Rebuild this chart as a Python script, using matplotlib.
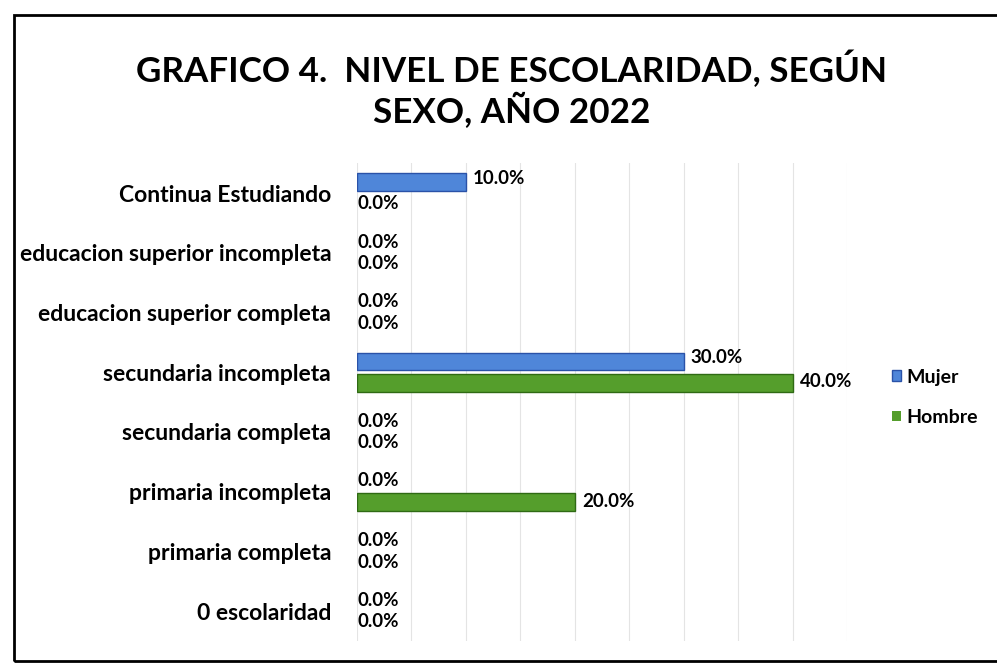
import matplotlib
matplotlib.use("Agg")
import matplotlib.pyplot as plt
from matplotlib.patches import Rectangle
import numpy as np

categories = ["Continua Estudiando", "educacion superior incompleta", "educacion superior completa",
              "secundaria incompleta", "secundaria completa", "primaria incompleta",
              "primaria completa", "0 escolaridad"]
mujer = [0.10, 0.0, 0.0, 0.30, 0.0, 0.0, 0.0, 0.0]
hombre = [0.0, 0.0, 0.0, 0.40, 0.0, 0.20, 0.0, 0.0]
series_names = ["Mujer", "Hombre"]
title = "GRAFICO 4.  NIVEL DE ESCOLARIDAD, SEGÚN\nSEXO, AÑO 2022"

FONT = ["Lato", "DejaVu Sans"]
plt.rcParams['font.family'] = FONT

fig = plt.figure(figsize=(9.97, 6.66), dpi=100)
fig.patches.append(Rectangle((0.014, 0.008), 1.2, 0.97, transform=fig.transFigure,
                             fill=False, edgecolor="black", linewidth=2.0))

ax = fig.add_axes([0.358, 0.0375, 0.492, 0.7175])
y = np.arange(len(categories))
h = 0.30
off = 0.18
bm = ax.barh(y - off, mujer, height=h, color="#4f86d9", edgecolor="#2a52a8", linewidth=1.0, label=series_names[0])
bh = ax.barh(y + off, hombre, height=h, color="#559e2c", edgecolor="#2f6a14", linewidth=1.0, label=series_names[1])
for bars, vals in ((bm, mujer), (bh, hombre)):
    for b, v in zip(bars, vals):
        if v == 0:
            b.set_linewidth(0)

ax.set_xlim(0, 0.45)
ax.set_ylim(len(categories) - 0.5, -0.5)
ax.set_xticks(np.arange(0, 0.451, 0.05))
ax.xaxis.grid(True, color="#e4e4e4", linewidth=0.8)
ax.set_axisbelow(True)
ax.tick_params(axis="x", bottom=False, labelbottom=False)
ax.tick_params(axis="y", left=False, pad=15)
ax.set_yticks(y)
ax.set_yticklabels(categories, fontsize=16.5, fontweight="bold")
for s in ax.spines.values():
    s.set_visible(False)

for yy, v in zip(y, mujer):
    ax.annotate(f"{v*100:.1f}%", (v, yy - off), xytext=(5 if v > 0 else 0.5, 3 if v > 0 else 0),
                textcoords="offset points", va="center", ha="left", fontsize=13.5, fontweight="bold")
for yy, v in zip(y, hombre):
    ax.annotate(f"{v*100:.1f}%", (v, yy + off), xytext=(5 if v > 0 else 0.5, 1 if v > 0 else 0),
                textcoords="offset points", va="center", ha="left", fontsize=13.5, fontweight="bold")

leg = ax.legend(loc="center left", bbox_to_anchor=(1.055, 0.51), frameon=False,
                prop={"weight": "bold", "size": 14}, handlelength=0.45, handleheight=0.45,
                handletextpad=0.3, labelspacing=1.2)

fig.text(0.513, 0.865, title, ha="center", va="center", fontsize=25.2, fontweight="bold",
         linespacing=1.15)

fig.savefig("out.png", dpi=100)
